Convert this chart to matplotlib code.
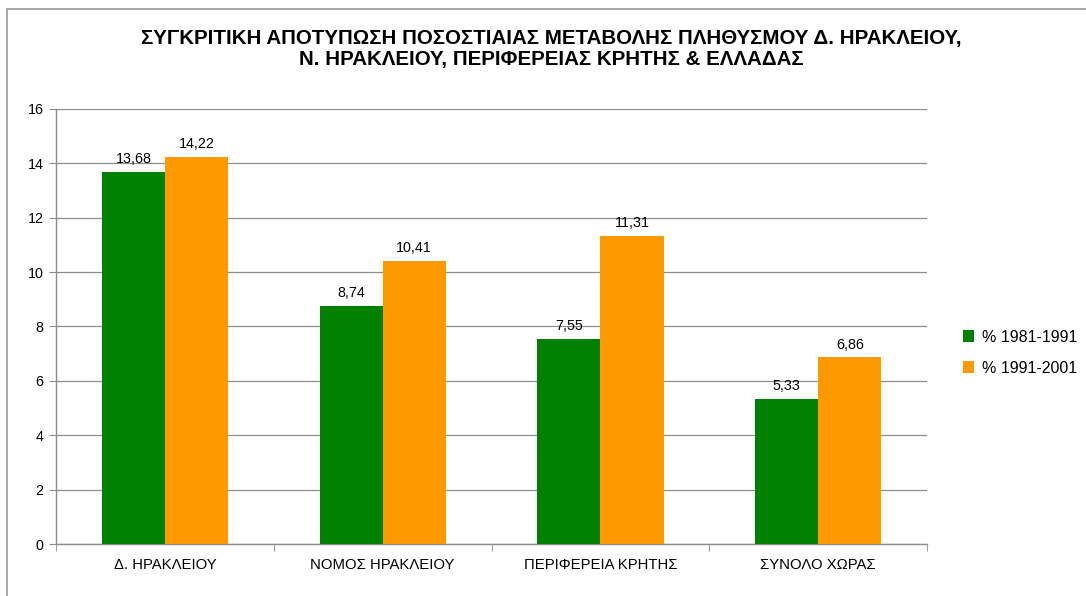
import numpy as np
import matplotlib.pyplot as plt
import matplotlib
from matplotlib.patches import Rectangle

matplotlib.rcParams['font.family'] = ['Liberation Sans', 'DejaVu Sans']

# ─── Data ───
categories = ['Δ. ΗΡΑΚΛΕΙΟΥ', 'ΝΟΜΟΣ ΗΡΑΚΛΕΙΟΥ', 'ΠΕΡΙΦΕΡΕΙΑ ΚΡΗΤΗΣ', 'ΣΥΝΟΛΟ ΧΩΡΑΣ']
pct_1981_1991 = [13.68, 8.74, 7.55, 5.33]
pct_1991_2001 = [14.22, 10.41, 11.31, 6.86]
series_names = ['% 1981-1991', '% 1991-2001']
title = ('ΣΥΓΚΡΙΤΙΚΗ ΑΠΟΤΥΠΩΣΗ ΠΟΣΟΣΤΙΑΙΑΣ ΜΕΤΑΒΟΛΗΣ ΠΛΗΘΥΣΜΟΥ Δ. ΗΡΑΚΛΕΙΟΥ,\n'
         'Ν. ΗΡΑΚΛΕΙΟΥ, ΠΕΡΙΦΕΡΕΙΑΣ ΚΡΗΤΗΣ & ΕΛΛΑΔΑΣ')

GREEN = '#008000'
ORANGE = '#FF9900'
GRID = '#8c8c8c'

fig = plt.figure(figsize=(10.86, 5.96), dpi=100)
ax = fig.add_axes([0.0516, 0.0872, 0.8020, 0.7300])

# outer chart frame (only top/left visible in the original)
fig.patches.append(Rectangle((7 / 1086, -0.1), 1.2, 1.1 - 9 / 596,
                             transform=fig.transFigure, fill=False,
                             edgecolor='#9a9a9a', linewidth=1.2))

x = np.arange(len(categories))
w = 0.29
b1 = ax.bar(x - w / 2, pct_1981_1991, w, color=GREEN, label=series_names[0], zorder=3)
b2 = ax.bar(x + w / 2, pct_1991_2001, w, color=ORANGE, label=series_names[1], zorder=3)

for bars, vals in ((b1, pct_1981_1991), (b2, pct_1991_2001)):
    for r, v in zip(bars, vals):
        ax.text(r.get_x() + r.get_width() / 2, v + 0.22, f'{v:.2f}'.replace('.', ','),
                ha='center', va='bottom', fontsize=10.3)

ax.set_xlim(-0.5, len(categories) - 0.5)
ax.set_ylim(0, 16)
ax.set_yticks(range(0, 17, 2))
ax.yaxis.grid(True, color=GRID, linewidth=0.9, zorder=0)
ax.set_axisbelow(True)

ax.set_xticks(x)
ax.set_xticklabels(categories, fontsize=10.7)
ax.tick_params(axis='x', length=0, pad=10)
ax.set_xticks(np.arange(-0.5, len(categories)), minor=True)
ax.tick_params(axis='x', which='minor', length=5, color=GRID, direction='out')
ax.tick_params(axis='y', length=5, color=GRID, labelsize=10.3, pad=4)

for s in ('top', 'right'):
    ax.spines[s].set_visible(False)
for s in ('left', 'bottom'):
    ax.spines[s].set_color(GRID)
    ax.spines[s].set_linewidth(1.0)

fig.text(0.508, 0.918, title, ha='center', va='center', fontsize=14.8,
         fontweight='bold', linespacing=1.1)

ax.legend(loc='center left', bbox_to_anchor=(1.025, 0.44), frameon=False,
          fontsize=11.5, handlelength=0.7, handleheight=0.7, handletextpad=0.45,
          labelspacing=1.0)

fig.savefig('out.png', dpi=100, facecolor='white')
